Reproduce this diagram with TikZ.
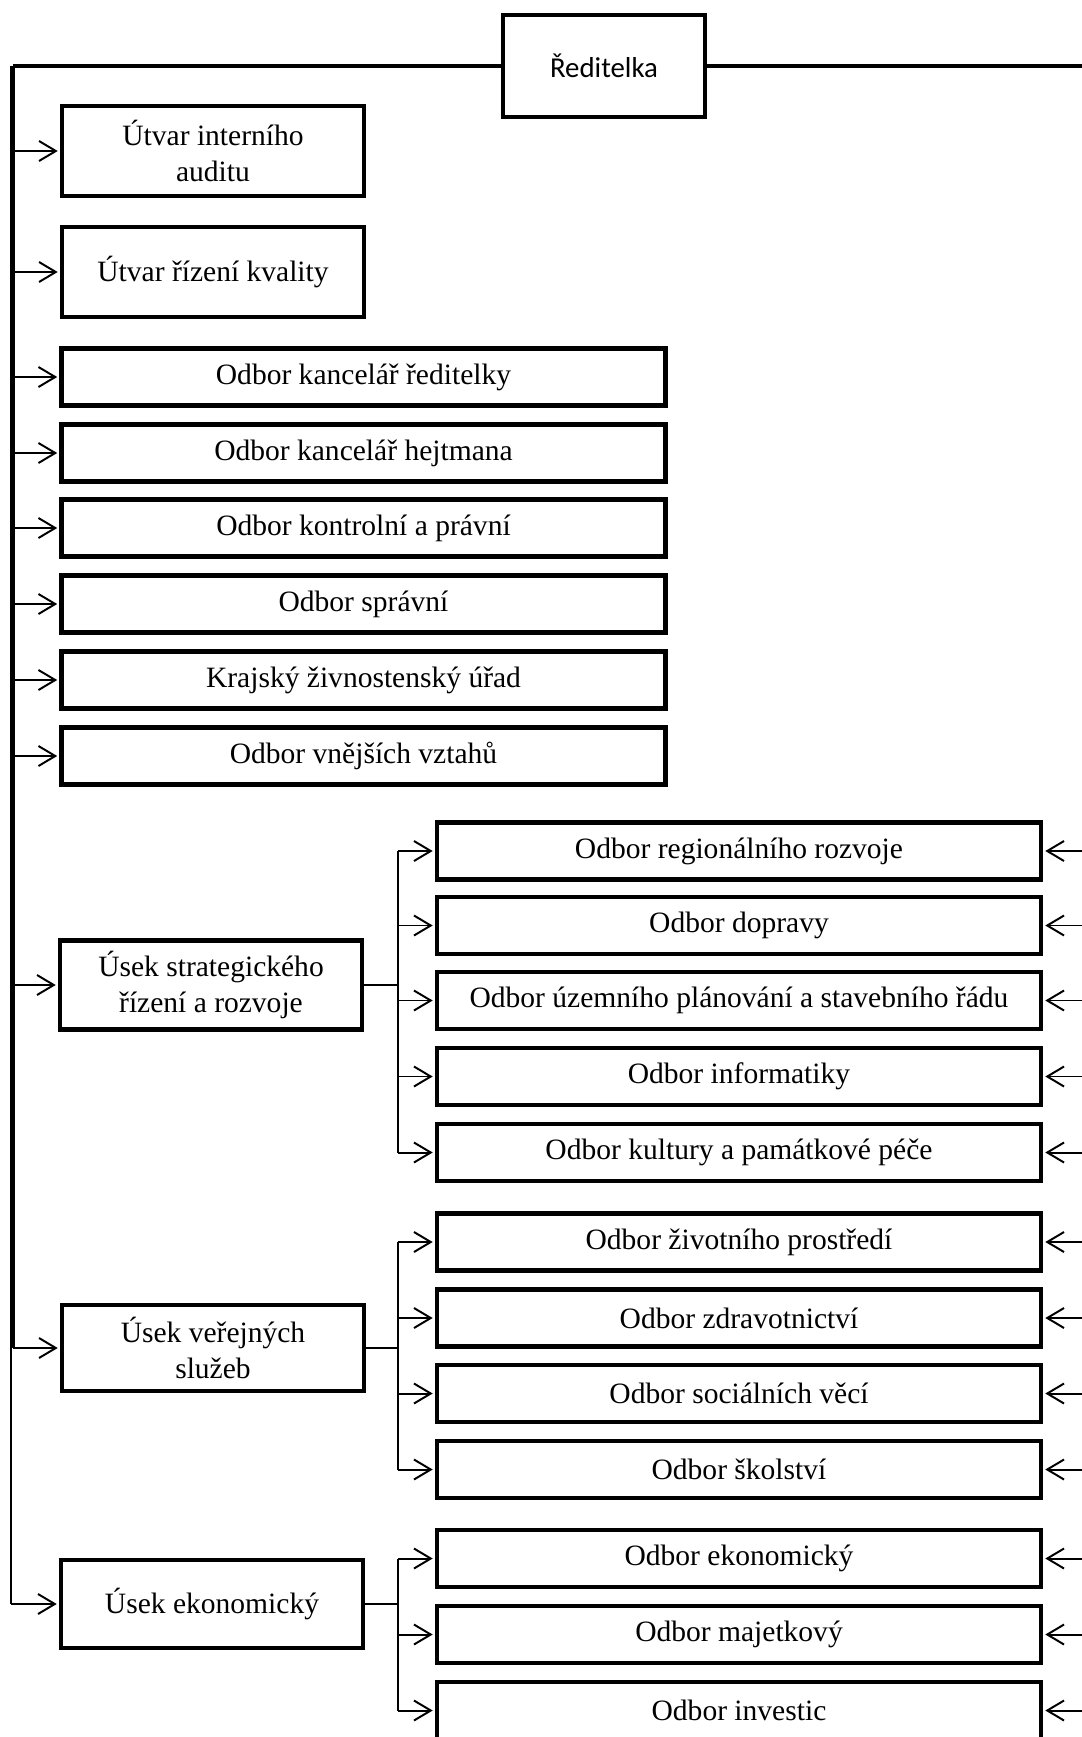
\documentclass[tikz,border=0pt]{standalone}
\usepackage{fontspec}
\setmainfont{Liberation Serif}
\newfontfamily\calfont{Carlito}
\usepackage{tikz}
\usetikzlibrary{positioning,calc,arrows.meta}

\tikzset{
    box/.style={draw, line width=3pt, align=center, inner sep=2pt,
        font=\fontsize{21}{25}\selectfont},
    small/.style={box, minimum width=7.55cm, minimum height=2.25cm},
    wide/.style={box, minimum width=15.1cm, minimum height=1.425cm},
    link/.style={line width=1.4pt},
    arr/.style={link, -{Straight Barb[length=0.42cm, width=0.5cm, line width=1.4pt]}, shorten >=1.5pt}
}

\begin{document}
\begin{tikzpicture}[x=0.025cm, y=-0.025cm]
    \useasboundingbox (0,0) rectangle (1081,1737);

    % Head
    \node[box, minimum width=5.05cm, minimum height=2.55cm, font=\calfont\fontsize{20.5}{24}\selectfont]
        (dir) at (604,66) {Ředitelka};
    \coordinate (lrail) at (12.5,66);
    \coordinate (rrail) at (1095,66);
    \draw[line width=2.4pt] (dir.west) -- (lrail);
    \draw[line width=2.4pt] (dir.east) -- (rrail);

    % Left column
    \node[small] (audit) at (213,151) {Útvar interního\\auditu};
    \node[small] (kval) at (213,272) {Útvar řízení kvality};
    \foreach \name/\y/\txt in {kanc/377/{Odbor kancelář ředitelky},
                               hejt/453/{Odbor kancelář hejtmana},
                               kontr/528/{Odbor kontrolní a právní},
                               sprav/604/{Odbor správní},
                               zivn/680/{Krajský živnostenský úřad},
                               vztah/756/{Odbor vnějších vztahů}}
        \node[wide] (\name) at (363.5,\y) {\txt};

    % Sections
    \node[small, minimum height=2.225cm] (strat) at (211,985) {Úsek strategického\\řízení a rozvoje};
    \node[small, minimum height=2.15cm] (verej) at (213,1348) {Úsek veřejných\\služeb};
    \node[small, minimum height=2.2cm] (ekon) at (212,1604) {Úsek ekonomický};

    % Rail on the left
    \draw[line width=3.5pt] (lrail) -- (lrail |- verej);
    \draw[line width=1.6pt] ([xshift=-0.95pt]lrail |- verej) -- ([xshift=-0.95pt]lrail |- ekon);
    \foreach \name in {audit,kval,kanc,hejt,kontr,sprav,zivn,vztah,strat,verej}
        \draw[arr] (lrail |- \name) -- (\name.west);
    \draw[arr] ([xshift=-0.95pt]lrail |- ekon) -- (ekon.west);

    % Right column
    \foreach \name/\y/\txt in {reg/851/{Odbor regionálního rozvoje},
                               dopr/925.5/{Odbor dopravy},
                               uzem/1000.5/{Odbor územního plánování a stavebního řádu},
                               info/1076.5/{Odbor informatiky},
                               kult/1152.5/{Odbor kultury a památkové péče},
                               zp/1242/{Odbor životního prostředí},
                               zdrav/1318/{Odbor zdravotnictví},
                               soc/1393.5/{Odbor sociálních věcí},
                               skol/1469.5/{Odbor školství},
                               ekod/1558.5/{Odbor ekonomický},
                               maj/1634.5/{Odbor majetkový},
                               inv/1710.5/{Odbor investic}}
    {
        \node[wide] (\name) at (739,\y) {\txt};
        \draw[arr] (rrail |- \name) -- (\name.east);
    }

    % Brackets
    \coordinate (br) at (398,0);
    \draw[link] (strat.east) -- (br |- strat);
    \draw[link] (br |- reg) -- (br |- kult);
    \foreach \name in {reg,dopr,uzem,info,kult}
        \draw[arr] (br |- \name) -- (\name.west);

    \draw[link] (verej.east) -- (br |- verej);
    \draw[link] (br |- zp) -- (br |- skol);
    \foreach \name in {zp,zdrav,soc,skol}
        \draw[arr] (br |- \name) -- (\name.west);

    \draw[link] (ekon.east) -- (br |- ekon);
    \draw[link] (br |- ekod) -- (br |- inv);
    \foreach \name in {ekod,maj,inv}
        \draw[arr] (br |- \name) -- (\name.west);
\end{tikzpicture}
\end{document}
